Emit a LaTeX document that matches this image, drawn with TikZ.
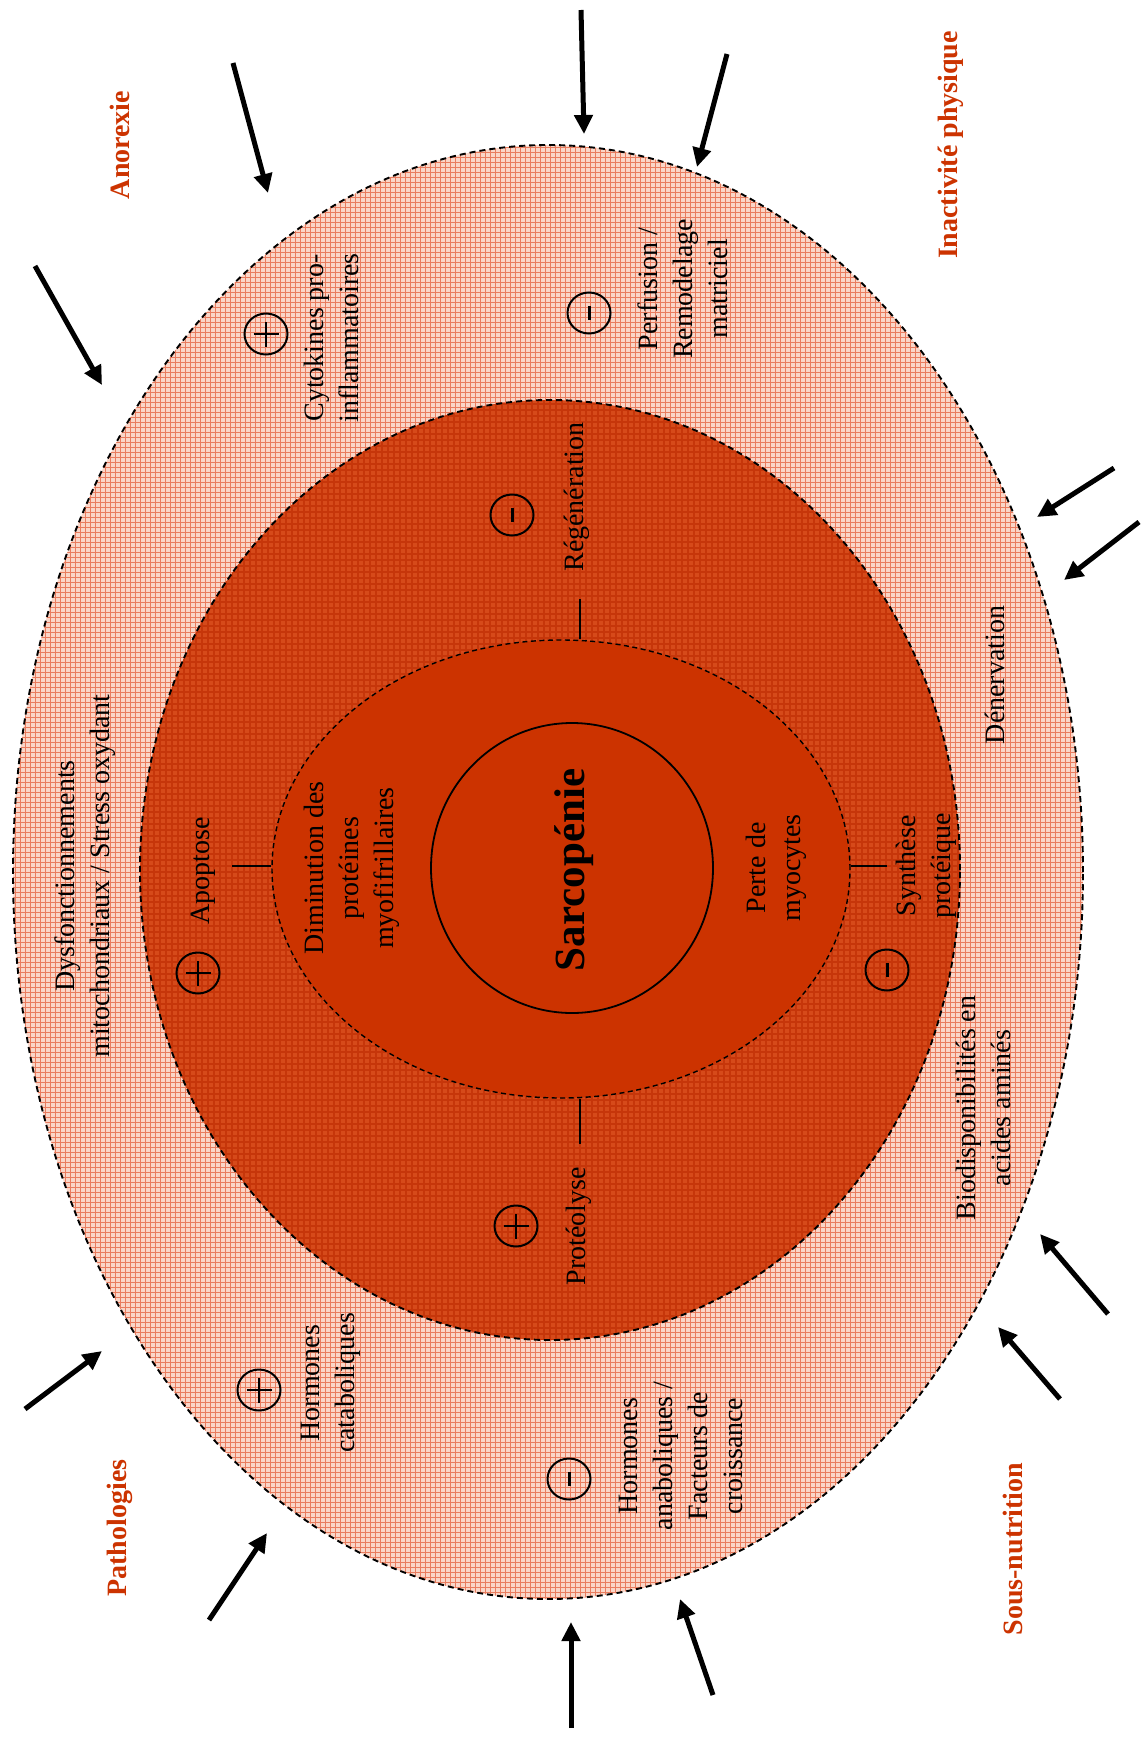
\documentclass[tikz,border=0pt]{standalone}
\usepackage{fontspec}
\setmainfont{Liberation Serif}
\usetikzlibrary{arrows.meta,shapes.geometric}

\definecolor{rust}{RGB}{204,51,0}
\definecolor{ringbase}{RGB}{250,214,200}
\definecolor{ringline}{RGB}{233,124,94}
\definecolor{midbase}{RGB}{214,74,26}
\definecolor{midline}{RGB}{198,54,10}

\begin{document}
\begin{tikzpicture}[x=1pt,y=-1pt,
  lbl/.style={rotate=90, align=center, inner sep=0pt, font=\fontsize{28}{35}\selectfont},
  cause/.style={rotate=90, inner sep=0pt, text=rust, font=\fontsize{28}{34}\selectfont\bfseries},
  zone/.style={ellipse, inner sep=0pt, draw, line width=1.9pt, dash pattern=on 6pt off 4pt},
  sign/.style={ellipse, draw, line width=2pt, inner sep=0pt, minimum width=43pt, minimum height=41pt},
  bar/.style={line width=2.2pt},
  push/.style={line width=5pt, -{Triangle[length=19pt,width=18pt]}},
  tickline/.style={line width=2.5pt}]

\useasboundingbox (0,0) rectangle (1143,1742);

% ---- outer ring: light plaid ----
\fill[ringbase] (548,872) ellipse [x radius=535, y radius=727];
\begin{scope}
  \clip (548,872) ellipse [x radius=535, y radius=727];
  \foreach \i in {10,15,...,1090} \draw[ringline, line width=1pt] (\i,140) -- (\i,1605);
  \foreach \j in {142,147,...,1605} \draw[ringline, line width=1pt] (8,\j) -- (1090,\j);
\end{scope}

% ---- middle ring: dark plaid ----
\fill[midbase] (550,870) ellipse [x radius=410, y radius=470];
\begin{scope}
  \clip (550,870) ellipse [x radius=410, y radius=470];
  \foreach \i in {136,142,...,966} \draw[midline, line width=1.2pt] (\i,398) -- (\i,1342);
  \foreach \j in {398,404,...,1342} \draw[midline, line width=1.2pt] (136,\j) -- (966,\j);
\end{scope}

% ---- inner zone ----
\fill[rust] (561,869) ellipse [x radius=289, y radius=229];

% ---- outlines ----
\node[zone, minimum width=1070pt, minimum height=1454pt] (outer) at (548,872) {};
\node[zone, minimum width=820pt, minimum height=940pt] (middle) at (550,870) {};
\node[zone, line width=1.4pt, dash pattern=on 5pt off 3.5pt, minimum width=578pt, minimum height=458pt] (inner) at (561,869) {};
\node[ellipse, draw, line width=1.8pt, inner sep=0pt, minimum width=282pt, minimum height=290pt] (core) at (572,868) {};

% ---- centre ----
\node[rotate=90, inner sep=0pt, font=\fontsize{43}{43}\selectfont\bfseries] (sarco) at (574,870) {Sarcopénie};

% ---- inner zone labels ----
\node[lbl] (dimin) at (352,868) {Diminution des\\protéines\\myofifrillaires};
\node[lbl] (perte) at (776,868) {Perte de\\myocytes};

% ---- middle ring labels ----
\node[lbl] (regen) at (577,497) {Régénération};
\node[lbl] (apop) at (203,871) {Apoptose};
\node[lbl] (proteo) at (579,1226) {Protéolyse};
\node[lbl] (synth) at (926,866) {Synthèse\\protéique};

\coordinate (tregen) at (580,599);
\coordinate (tapop) at (232,866);
\coordinate (tproteo) at (580,1144);
\coordinate (tsynth) at (887,866);
\draw[tickline] (tregen) -- (tregen |- inner.north);
\draw[tickline] (tapop) -- (tapop -| inner.west);
\draw[tickline] (tproteo) -- (tproteo |- inner.south);
\draw[tickline] (tsynth) -- (tsynth -| inner.east);

% ---- outer ring labels ----
\node[lbl] (cyto) at (331,338) {Cytokines pro-\\inflammatoires};
\node[lbl] (perf) at (683,289) {Perfusion /\\Remodelage\\matriciel};
\node[lbl] (mito) at (85,876) {Dysfonctionnements\\mitochondriaux / Stress oxydant};
\node[lbl] (dener) at (995,675) {Dénervation};
\node[lbl] (biodisp) at (983,1108) {Biodisponibilités en\\acides aminés};
\node[lbl] (catab) at (331,1383) {Hormones\\cataboliques};
\node[lbl] (anab) at (681,1456) {Hormones\\anaboliques /\\Facteurs de\\croissance};

% ---- circled signs ----
\node[sign] (scyto) at (266,334) {};
\draw[bar] ([xshift=-12.5pt]scyto.center) -- ([xshift=12.5pt]scyto.center);
\draw[bar] ([yshift=-12.5pt]scyto.center) -- ([yshift=12.5pt]scyto.center);

\node[sign] (sperf) at (589,313) {};
\draw[line width=3pt] ([yshift=-7pt]sperf.center) -- ([yshift=7pt]sperf.center);

\node[sign] (sregen) at (512,515) {};
\draw[line width=3pt] ([yshift=-7pt]sregen.center) -- ([yshift=7pt]sregen.center);

\node[sign] (sapop) at (198,973) {};
\draw[bar] ([xshift=-12.5pt]sapop.center) -- ([xshift=12.5pt]sapop.center);
\draw[bar] ([yshift=-12.5pt]sapop.center) -- ([yshift=12.5pt]sapop.center);

\node[sign] (ssynth) at (887,970) {};
\draw[line width=3pt] ([yshift=-7pt]ssynth.center) -- ([yshift=7pt]ssynth.center);

\node[sign] (sproteo) at (516,1226) {};
\draw[bar] ([xshift=-12.5pt]sproteo.center) -- ([xshift=12.5pt]sproteo.center);
\draw[bar] ([yshift=-12.5pt]sproteo.center) -- ([yshift=12.5pt]sproteo.center);

\node[sign] (scatab) at (259,1390) {};
\draw[bar] ([xshift=-12.5pt]scatab.center) -- ([xshift=12.5pt]scatab.center);
\draw[bar] ([yshift=-12.5pt]scatab.center) -- ([yshift=12.5pt]scatab.center);

\node[sign] (sanab) at (569,1479) {};
\draw[line width=3pt] ([yshift=-7pt]sanab.center) -- ([yshift=7pt]sanab.center);

% ---- causes ----
\node[cause] (anorexie) at (120,145) {Anorexie};
\node[cause] (inact) at (951,145) {Inactivité physique};
\node[cause] (patho) at (120,1528) {Pathologies};
\node[cause] (sousnut) at (1013,1549) {Sous-nutrition};

% ---- incoming arrows ----
\coordinate (a1s) at (233,63);    \coordinate (a1e) at (268,193);
\coordinate (a2s) at (581,10);    \coordinate (a2e) at (584,134);
\coordinate (a3s) at (727,54);    \coordinate (a3e) at (697,167);
\coordinate (a4s) at (35,266);    \coordinate (a4e) at (102,385);
\coordinate (a5s) at (1114,468);  \coordinate (a5e) at (1037,517);
\coordinate (a6s) at (1139,522);  \coordinate (a6e) at (1064,580);
\coordinate (a7s) at (25,1409);   \coordinate (a7e) at (102,1351);
\coordinate (a8s) at (209,1620);  \coordinate (a8e) at (267,1533);
\coordinate (a9s) at (571,1728);  \coordinate (a9e) at (571,1622);
\coordinate (a10s) at (713,1695); \coordinate (a10e) at (680,1599);
\coordinate (a11s) at (1060,1399);\coordinate (a11e) at (998,1327);
\coordinate (a12s) at (1108,1314);\coordinate (a12e) at (1040,1234);
\foreach \k in {1,...,12} \draw[push] (a\k s) -- (a\k e);

\end{tikzpicture}
\end{document}
